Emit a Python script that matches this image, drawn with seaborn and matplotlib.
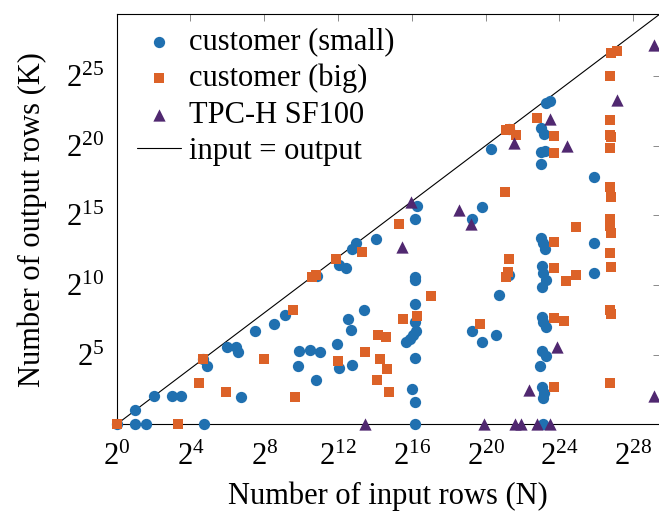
import numpy as np
import pandas as pd
import matplotlib
matplotlib.use("Agg")
import matplotlib.pyplot as plt
from matplotlib.ticker import FixedLocator, FuncFormatter, NullLocator
import seaborn as sns

# log2 of the number of input rows (N) and output rows (K) per query
small_log2_in = [0, 1, 1.6, 1, 2, 3, 3.5, 4.74, 4.7, 4.9, 5.97, 6.48, 6.6, 6.73, 7.51,
                 8.54, 9.14, 9.86, 9.82, 10.85, 10.49, 11.0, 10.82, 11.94, 12.05, 12.05,
                 12.45, 12.56, 12.70, 12.77, 12.99, 12.77, 13.41, 14.06,
                 16.29, 16.16, 16.16, 16.16, 16.16, 16.16, 16.25, 16.07, 15.89, 15.69,
                 16.18, 16.02, 16.18, 16.18,
                 19.27, 19.79, 19.27, 19.79, 20.54, 20.72, 21.26, 20.27, 21.25,
                 23.25, 23.48, 23.01, 23.16, 23.01, 23.19, 23.01,
                 23.01, 23.1, 23.2, 23.05, 23.1, 23.25, 23.05, 23.05, 23.1, 23.25,
                 23.05, 23.25, 22.94, 23.05, 23.15, 23.1, 23.1,
                 25.87, 25.87, 25.9]
small_log2_out = [0, 0, 0, 1, 2, 2, 2, 0, 4.7, 4.18, 5.57, 5.57, 5.21, 1.98, 6.69,
                  7.22, 7.82, 5.28, 4.18, 10.65, 5.33, 5.21, 3.16, 5.74, 4.02, 11.41,
                  11.19, 7.58, 6.74, 12.55, 12.98, 4.23, 8.22, 13.29,
                  15.68, 14.73, 10.6, 10.35, 8.61, 7.32, 6.69, 6.41, 6.10, 5.93,
                  4.73, 2.55, 1.58, 0,
                  14.73, 15.57, 6.72, 5.88, 6.43, 9.28, 10.75, 19.73, 21.2,
                  23.07, 23.21, 21.3, 20.83, 19.56, 19.63, 18.67,
                  13.34, 12.98, 12.55, 11.36, 10.83, 10.35, 9.83, 7.72, 7.36, 6.96,
                  5.28, 4.9, 4.18, 2.65, 2.22, 1.86, 0,
                  12.98, 10.83, 17.72]

big_log2_in = [0, 3.31, 4.47, 4.70, 5.95, 8.01, 9.55, 9.64, 10.58, 10.8, 11.87, 11.98,
               13.32, 13.46, 14.15, 14.62, 14.29, 14.11, 14.66, 14.77, 15.3, 15.54,
               16.29, 17.01, 19.69, 21.28, 21.08, 21.2, 21.08, 21.31, 21.62, 21.04,
               22.8, 23.7, 23.7, 24.88, 23.7, 23.7, 24.34, 24.88, 23.7, 24.25, 23.7,
               26.82, 27.1, 26.74, 26.74, 26.74, 26.8, 26.74, 26.74, 26.8, 26.74,
               26.74, 26.8, 26.74, 26.8, 26.74, 26.8, 26.74]
big_log2_out = [0, 0, 2.98, 4.66, 2.32, 4.66, 8.22, 1.98, 10.59, 10.7, 11.84, 4.56,
                12.34, 5.16, 6.38, 6.24, 4.66, 3.16, 3.99, 2.32, 14.35, 7.58,
                7.77, 9.23, 7.22, 11.84, 10.55, 10.9, 21.11, 21.16, 20.75, 16.69,
                22.0, 20.68, 19.44, 14.13, 13.1, 11.19, 10.28, 10.71, 7.6, 7.43, 2.65,
                26.66, 26.78, 24.99, 21.83, 20.75, 20.59, 19.8, 17.0, 16.28, 14.7,
                14.25, 13.7, 12.31, 11.31, 8.2, 7.91, 2.98]

tpch_log2_in = [13.46, 15.96, 15.47, 18.58, 19.18, 19.92, 21.59, 21.9, 22.35, 22.76,
                23.48, 23.85, 23.47, 21.53, 24.43, 27.14, 29.13, 29.13]
tpch_log2_out = [0, 15.97, 12.7, 15.37, 14.37, 0, 0, 0, 2.46, 0,
                 0, 5.52, 21.88, 20.16, 19.96, 23.26, 27.2, 2.03]

x_tick_exponents = [0, 4, 8, 12, 16, 20, 24, 28]
y_tick_exponents = [5, 10, 15, 20, 25]

series = [
    ("customer (small)", small_log2_in, small_log2_out, "o", 66, "#2070b0"),
    ("customer (big)", big_log2_in, big_log2_out, "s", 44, "#dc6228"),
    ("TPC-H SF100", tpch_log2_in, tpch_log2_out, "^", 78, "#502870"),
]

sns.set_theme(style="white")
plt.rcParams["font.family"] = ["Liberation Serif", "DejaVu Serif"]
plt.rcParams["mathtext.fontset"] = "custom"
plt.rcParams["mathtext.rm"] = "Liberation Serif"
plt.rcParams["mathtext.it"] = "Liberation Serif:italic"
plt.rcParams["mathtext.bf"] = "Liberation Serif:bold"
plt.rcParams["text.color"] = "black"
plt.rcParams["axes.labelcolor"] = "black"
plt.rcParams["xtick.labelcolor"] = "black"
plt.rcParams["ytick.labelcolor"] = "black"

fig = plt.figure(figsize=(6.59, 5.12), dpi=100)
ax = fig.add_axes([0.1771, 0.1713, 0.8244, 0.8014])

for name, xin, yout, marker, size, color in series:
    df = pd.DataFrame({"N": 2.0 ** np.asarray(xin), "K": 2.0 ** np.asarray(yout)})
    sns.scatterplot(data=df, x="N", y="K", marker=marker, s=size, color=color,
                    linewidth=0, ax=ax, label=name, zorder=3, clip_on=False)

lim = 2.0 ** 29.45
ax.plot([1, lim], [1, lim], color="black", linewidth=0.8, label="input = output",
        zorder=2)

ax.set_xscale("log", base=2)
ax.set_yscale("log", base=2)
ax.set_xlim(1, lim)
ax.set_ylim(1, lim)

fmt = FuncFormatter(lambda v, pos: r"$2^{%d}$" % int(round(np.log2(v))))
ax.xaxis.set_major_locator(FixedLocator([2.0 ** e for e in x_tick_exponents]))
ax.yaxis.set_major_locator(FixedLocator([2.0 ** e for e in y_tick_exponents]))
ax.xaxis.set_major_formatter(fmt)
ax.yaxis.set_major_formatter(fmt)
ax.xaxis.set_minor_locator(NullLocator())
ax.yaxis.set_minor_locator(NullLocator())
ax.tick_params(axis="both", which="major", direction="in", length=5, width=0.6,
               color="#777777", labelsize=22, top=True, right=True,
               labeltop=False, labelright=False)
ax.tick_params(axis="x", pad=13)
ax.tick_params(axis="y", pad=9)

for sp in ax.spines.values():
    sp.set_color("black")
    sp.set_linewidth(0.8)

ax.set_xlabel("Number of input rows (N)", fontsize=22, labelpad=7)
ax.set_ylabel("Number of output rows (K)", fontsize=22, labelpad=14)
ax.grid(False)

ax.legend(loc="upper left", bbox_to_anchor=(0.2079, 0.946),
          bbox_transform=fig.transFigure, frameon=False, fontsize=22,
          handlelength=1.45, handletextpad=0.25, labelspacing=0.24,
          borderpad=0, borderaxespad=0, markerscale=1.0)

fig.savefig("out.png", dpi=100)
